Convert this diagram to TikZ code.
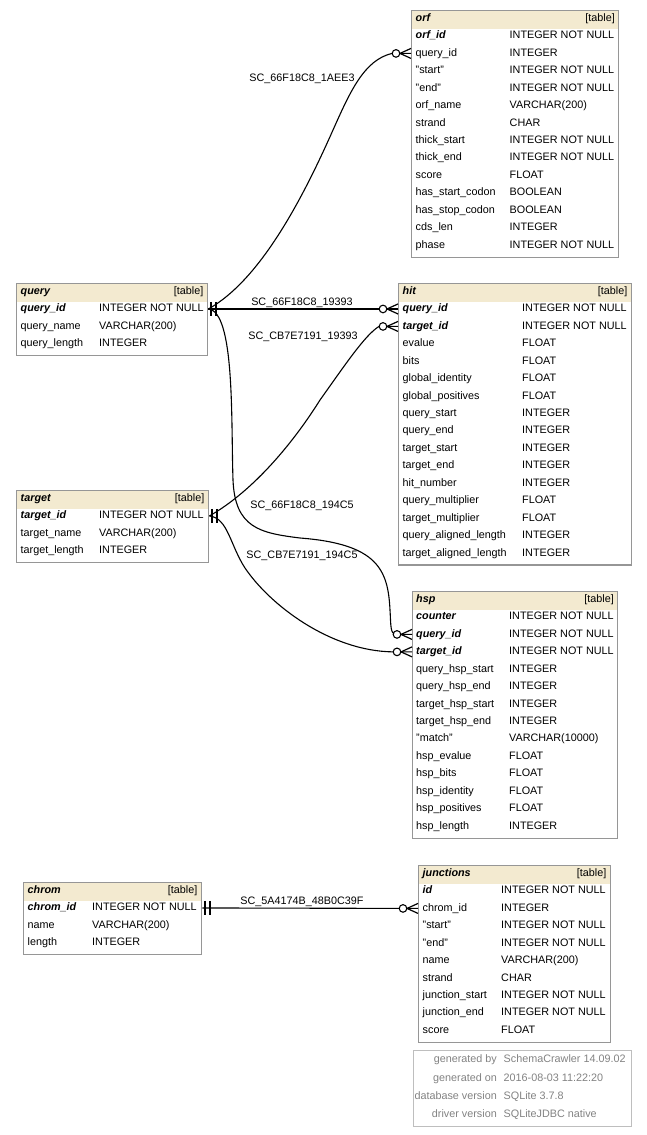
\documentclass[tikz,border=0pt]{standalone}
\usepackage{fontspec}
\setmainfont{Liberation Sans}
\definecolor{hdrfill}{RGB}{243,234,208}
\definecolor{tblborder}{RGB}{150,150,150}
\definecolor{infoborder}{RGB}{190,190,190}
\definecolor{infogrey}{RGB}{130,130,130}
\newcommand{\pk}[1]{\textbf{\textit{#1}}}
% one end: two bars next to the table
\newcommand{\onemark}[1]{%
  \draw[line width=2.6pt] ([xshift=2.5pt]#1) +(0,-7) -- +(0,7)
        ([xshift=7.5pt]#1) +(0,-7) -- +(0,7);}
% many end: open circle and crow foot
\newcommand{\manymark}[1]{%
  \draw[line width=1.2pt] ([xshift=-11pt]#1) -- ([yshift=5pt]#1)
        ([xshift=-11pt]#1) -- ([yshift=-5pt]#1);
  \draw[line width=1.1pt, fill=white] ([xshift=-15pt]#1) circle (3.8pt);}
\tikzstyle{tbl} = [draw=tblborder, line width=1.4pt, fill=white, anchor=north west, inner sep=0pt,
  path picture={\fill[hdrfill] (path picture bounding box.north west) rectangle ([yshift=-18pt]path picture bounding box.north east);}]
\tikzstyle{cell} = [anchor=west, inner sep=0pt, text height=7.8pt, text depth=2.2pt]
\tikzstyle{hdr} = [cell, font=\fontsize{10.8}{13}\selectfont\bfseries\itshape]
\tikzstyle{tag} = [cell, anchor=east]
\tikzstyle{fk} = [draw, line width=1.1pt]
\tikzstyle{fklabel} = [inner sep=0pt]
\tikzstyle{info} = [cell, text=infogrey]

\begin{document}
\begin{tikzpicture}[x=1pt, y=-1pt, font=\fontsize{10.8}{13}\selectfont]
	\useasboundingbox (0,0) rectangle (647,1135);
	\def\rp{17.46}

	% orf
	\node[tbl, minimum width=207pt, minimum height=246.5pt] (orf) at (411,10) {};
	\node[hdr] (orf-h) at (415.5,18.5) {orf};
	\node[tag] (orf-t) at (615,18.5) {[table]};
	\foreach \c/\t [count=\i] in {\pk{orf\_id}/INTEGER NOT NULL, query\_id/INTEGER, "start"/INTEGER NOT NULL,
		"end"/INTEGER NOT NULL, orf\_name/VARCHAR(200), strand/CHAR, thick\_start/INTEGER NOT NULL,
		thick\_end/INTEGER NOT NULL, score/FLOAT, has\_start\_codon/BOOLEAN, has\_stop\_codon/BOOLEAN,
		cds\_len/INTEGER, phase/INTEGER NOT NULL} {
		\node[cell] (orf-\i) at (415.5,18.5+\i*\rp) {\c};
		\node[cell] (orf-\i-ty) at (509.5,18.5+\i*\rp) {\t};
	}

	% query
	\node[tbl, minimum width=191pt, minimum height=71.9pt] (query) at (16,283) {};
	\node[hdr] (query-h) at (20.5,291.5) {query};
	\node[tag] (query-t) at (203.5,291.5) {[table]};
	\foreach \c/\t [count=\i] in {\pk{query\_id}/INTEGER NOT NULL, query\_name/VARCHAR(200), query\_length/INTEGER} {
		\node[cell] (query-\i) at (20.5,291.5+\i*\rp) {\c};
		\node[cell] (query-\i-ty) at (99,291.5+\i*\rp) {\t};
	}

	% hit
	\node[tbl, minimum width=233pt, minimum height=281.4pt] (hit) at (398,283) {};
	\node[hdr] (hit-h) at (402.5,291.5) {hit};
	\node[tag] (hit-t) at (627.5,291.5) {[table]};
	\foreach \c/\t [count=\i] in {\pk{query\_id}/INTEGER NOT NULL, \pk{target\_id}/INTEGER NOT NULL, evalue/FLOAT,
		bits/FLOAT, global\_identity/FLOAT, global\_positives/FLOAT, query\_start/INTEGER, query\_end/INTEGER,
		target\_start/INTEGER, target\_end/INTEGER, hit\_number/INTEGER, query\_multiplier/FLOAT,
		target\_multiplier/FLOAT, query\_aligned\_length/INTEGER, target\_aligned\_length/INTEGER} {
		\node[cell] (hit-\i) at (402.5,291.5+\i*\rp) {\c};
		\node[cell] (hit-\i-ty) at (522,291.5+\i*\rp) {\t};
	}

	% target
	\node[tbl, minimum width=192pt, minimum height=71.9pt] (target) at (16,490) {};
	\node[hdr] (target-h) at (20.5,498.5) {target};
	\node[tag] (target-t) at (204.5,498.5) {[table]};
	\foreach \c/\t [count=\i] in {\pk{target\_id}/INTEGER NOT NULL, target\_name/VARCHAR(200), target\_length/INTEGER} {
		\node[cell] (target-\i) at (20.5,498.5+\i*\rp) {\c};
		\node[cell] (target-\i-ty) at (99,498.5+\i*\rp) {\t};
	}

	% hsp
	\node[tbl, minimum width=205pt, minimum height=246.5pt] (hsp) at (412,591) {};
	\node[hdr] (hsp-h) at (416,599.5) {hsp};
	\node[tag] (hsp-t) at (614,599.5) {[table]};
	\foreach \c/\t [count=\i] in {\pk{counter}/INTEGER NOT NULL, \pk{query\_id}/INTEGER NOT NULL,
		\pk{target\_id}/INTEGER NOT NULL, query\_hsp\_start/INTEGER, query\_hsp\_end/INTEGER,
		target\_hsp\_start/INTEGER, target\_hsp\_end/INTEGER, "match"/VARCHAR(10000), hsp\_evalue/FLOAT,
		hsp\_bits/FLOAT, hsp\_identity/FLOAT, hsp\_positives/FLOAT, hsp\_length/INTEGER} {
		\node[cell] (hsp-\i) at (416,599.5+\i*\rp) {\c};
		\node[cell] (hsp-\i-ty) at (509,599.5+\i*\rp) {\t};
	}

	% chrom
	\node[tbl, minimum width=178pt, minimum height=71.9pt] (chrom) at (23,882) {};
	\node[hdr] (chrom-h) at (27.5,890.5) {chrom};
	\node[tag] (chrom-t) at (197.5,890.5) {[table]};
	\foreach \c/\t [count=\i] in {\pk{chrom\_id}/INTEGER NOT NULL, name/VARCHAR(200), length/INTEGER} {
		\node[cell] (chrom-\i) at (27.5,890.5+\i*\rp) {\c};
		\node[cell] (chrom-\i-ty) at (92,890.5+\i*\rp) {\t};
	}

	% junctions
	\node[tbl, minimum width=192pt, minimum height=176.6pt] (junctions) at (418,865) {};
	\node[hdr] (junctions-h) at (422.5,873.5) {junctions};
	\node[tag] (junctions-t) at (606.5,873.5) {[table]};
	\foreach \c/\t [count=\i] in {\pk{id}/INTEGER NOT NULL, chrom\_id/INTEGER, "start"/INTEGER NOT NULL,
		"end"/INTEGER NOT NULL, name/VARCHAR(200), strand/CHAR, junction\_start/INTEGER NOT NULL,
		junction\_end/INTEGER NOT NULL, score/FLOAT} {
		\node[cell] (junctions-\i) at (422.5,873.5+\i*\rp) {\c};
		\node[cell] (junctions-\i-ty) at (501,873.5+\i*\rp) {\t};
	}

	% ends of the keys
	\coordinate (q1) at (query.east |- query-1);
	\coordinate (t1) at (target.east |- target-1);
	\coordinate (c1) at (chrom.east |- chrom-1);
	\coordinate (o2) at (orf.west |- orf-2);
	\coordinate (h1) at (hit.west |- hit-1);
	\coordinate (h2) at (hit.west |- hit-2);
	\coordinate (s2) at (hsp.west |- hsp-2);
	\coordinate (s3) at (hsp.west |- hsp-3);
	\coordinate (j2) at (junctions.west |- junctions-2);

	\path[fk] (q1) .. controls (260,280) and (302,200) .. (333,130)
		.. controls (350,92) and (364,60) .. ([xshift=-19pt]o2) -- (o2);
	\path[fk] (q1) -- (h1);
	\path[fk] (t1) .. controls (255,490) and (295,440) .. (320,400)
		.. controls (345,365) and (365,335) .. ([xshift=-19pt]h2) -- (h2);
	\path[fk] (q1) .. controls (235,312) and (231,420) .. (233,480)
		.. controls (235,528) and (260,533) .. (300,538)
		.. controls (378,544) and (388,570) .. (390,610)
		.. controls (391,625) and (390,634) .. ([xshift=-16pt]s2) -- (s2);
	\path[fk] (t1) .. controls (228,518) and (230,545) .. (245,568)
		.. controls (270,605) and (330,651) .. ([xshift=-19pt]s3) -- (s3);
	\path[fk] (c1) -- (j2);

	\onemark{q1} \onemark{t1} \onemark{c1}
	\manymark{o2} \manymark{h1} \manymark{h2} \manymark{s2} \manymark{s3} \manymark{j2}

	\node[fklabel] (l-orf) at (302,79) {SC\_66F18C8\_1AEE3};
	\node[fklabel] (l-hitq) at (302,303) {SC\_66F18C8\_19393};
	\node[fklabel] (l-hitt) at (303,337) {SC\_CB7E7191\_19393};
	\node[fklabel] (l-hspq) at (302,506) {SC\_66F18C8\_194C5};
	\node[fklabel] (l-hspt) at (302,556) {SC\_CB7E7191\_194C5};
	\node[fklabel] (l-junc) at (302,902) {SC\_5A4174B\_48B0C39F};

	% footer
	\node[draw=infoborder, line width=1.2pt, anchor=north west, minimum width=218pt, minimum height=76pt] (infobox) at (413,1050) {};
	\node[info, anchor=east] (info-1) at (497,1060) {generated by};
	\node[info] (info-1v) at (503.5,1060) {SchemaCrawler 14.09.02};
	\node[info, anchor=east] (info-2) at (497,1078.5) {generated on};
	\node[info] (info-2v) at (503.5,1078.5) {2016-08-03 11:22:20};
	\node[info, anchor=east] (info-3) at (497,1096.5) {database version};
	\node[info] (info-3v) at (503.5,1096.5) {SQLite 3.7.8};
	\node[info, anchor=east] (info-4) at (497,1114.5) {driver version};
	\node[info] (info-4v) at (503.5,1114.5) {SQLiteJDBC native};
\end{tikzpicture}
\end{document}
